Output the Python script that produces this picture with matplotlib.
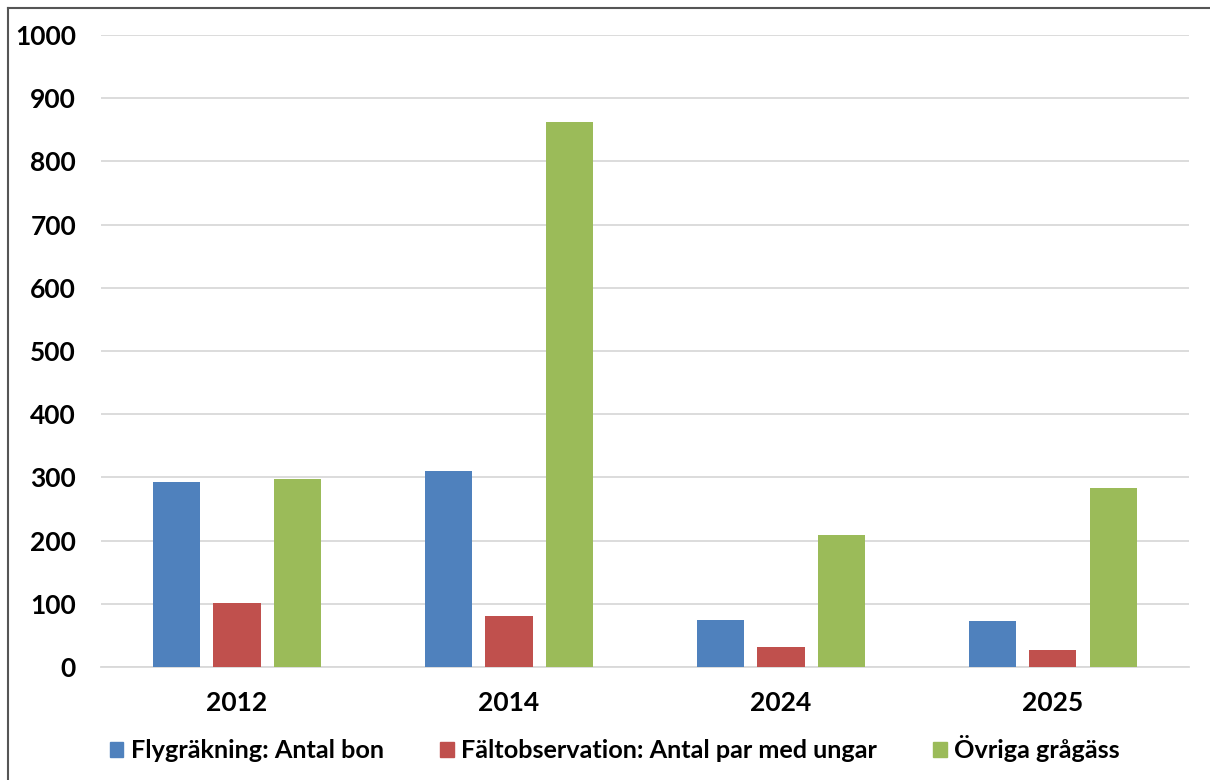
import numpy as np
import matplotlib
matplotlib.use('Agg')
import matplotlib.pyplot as plt
from matplotlib.patches import Rectangle
from matplotlib.lines import Line2D

plt.rcParams['font.family'] = ['Lato', 'DejaVu Sans']
plt.rcParams['font.weight'] = 'bold'

years = ['2012', '2014', '2024', '2025']
flygrakning = [293, 310, 74, 73]
faltobs = [101, 81, 32, 27]
ovriga = [297, 862, 209, 283]
labels = ['Flygräkning: Antal bon',
          'Fältobservation: Antal par med ungar',
          'Övriga grågäss']
colors = ['#4F81BD', '#C0504D', '#9BBB59']

fig = plt.figure(figsize=(12.1, 7.8), dpi=100)
ax = fig.add_axes([0.0835, 0.1449, 0.8991, 0.8101])

x = np.arange(len(years))
w = 0.173
off = 0.221
for i, (vals, c) in enumerate(zip([flygrakning, faltobs, ovriga], colors)):
    ax.bar(x + (i - 1) * off, vals, width=w, color=c, label=labels[i], zorder=3)

ax.set_xlim(-0.5, len(years) - 0.5)
ax.set_ylim(0, 1000)
ax.set_yticks(np.arange(0, 1001, 100))
ax.set_xticks(x)
ax.set_xticklabels(years)
ax.grid(axis='y', color='#d9d9d9', linewidth=1.3, zorder=0)
for s in ['top', 'right', 'left']:
    ax.spines[s].set_visible(False)
ax.spines['bottom'].set_color('#d9d9d9')
ax.spines['bottom'].set_linewidth(1.3)
ax.tick_params(axis='both', length=0, labelsize=19)
ax.tick_params(axis='y', pad=18)
ax.tick_params(axis='x', pad=17)

# legend
handles = [Rectangle((0, 0), 1, 1, color=c) for c in colors]
fig.legend(handles, labels, loc='center', bbox_to_anchor=(0.508, 0.04), ncol=3,
           frameon=False, fontsize=18.2, handlelength=0.55, handleheight=0.55,
           handletextpad=0.3, columnspacing=2.2)

# outer frame
fig.add_artist(Line2D([8/1210, 8/1210], [0, 1 - 8/780], color='#555555', linewidth=1.5))
fig.add_artist(Line2D([8/1210, 1], [1 - 8/780, 1 - 8/780], color='#555555', linewidth=1.5))

fig.savefig('out.png', dpi=100)
